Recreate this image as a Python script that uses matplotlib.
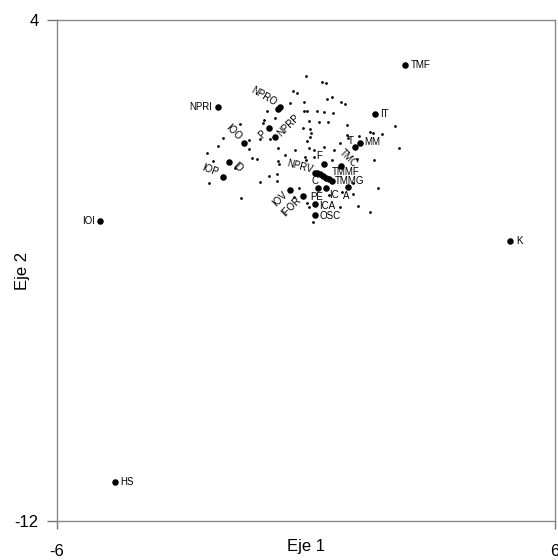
import matplotlib
matplotlib.use("Agg")
import matplotlib.pyplot as plt

plt.rcParams['font.family'] = ['Liberation Sans', 'DejaVu Sans']

# Labelled variables (Eje 1, Eje 2)
labels = ["TMF", "NPRI", "NPRO", "IT", "P", "NPRP", "IOO", "MM", "T", "ID",
          "IOP", "F", "TMC", "C", "TMMF", "TMMG", "A", "PE", "IC", "IOV",
          "IFOR", "ICA", "OSC", "IOI", "K", "HS"]
lab_x = [2.39, -2.12, -0.63, 1.66, -0.89, -0.75, -1.50, 1.30, 1.18, -1.86,
         -2.00, 0.43, 0.84, 0.26, 0.41, 0.63, 1.01, 0.29, 0.48, -0.39,
         -0.07, 0.22, 0.22, -4.96, 4.92, -4.60]
lab_y = [2.56, 1.22, 1.22, 1.00, 0.55, 0.26, 0.07, 0.07, -0.06, -0.54,
         -1.02, -0.60, -0.66, -0.89, -0.98, -1.14, -1.34, -1.37, -1.37, -1.43,
         -1.62, -1.88, -2.23, -2.42, -3.06, -10.76]
# extra unlabelled large points along the C - TMMG chain and NPRO
big_x = [0.22, 0.33, 0.48, 0.55, -0.67]
big_y = [-0.88, -0.93, -1.03, -1.08, 1.16]

# Cases (small dots)
pts_x = [0.00, 0.39, 0.47, -0.32, -0.23, 0.62, 0.50, 0.84, 0.94, -0.06,
         -0.39, -0.93, -0.05, 0.03, 0.26, 0.44, 0.64, -0.76, -1.01, -1.04,
         0.32, 0.07, 0.52, -1.59, 0.98, -0.08, 0.10, 2.13, 1.53, 1.62,
         1.82, -1.11, -1.37, -0.87, 0.02, 0.10, 0.12, 0.98, 1.02, 1.28,
         -1.99, -2.13, -1.37, -0.68, -0.27, 0.08, 0.44, 0.68, 2.25, -2.39,
         -1.29, -1.17, -0.68, -0.65, -2.23, -1.71, 0.00, 0.20, 0.62, 1.22,
         1.64, -0.71, -0.89, -2.33, -1.12, -0.71, 1.14, 1.74, -0.16, -1.57,
         -0.28, 0.86, 0.56, 1.14, 0.82, 1.24, 1.53, 0.06, 0.16, -0.51,
         -0.02, 0.18, 0.82, 0.02]
pts_y = [2.22, 2.02, 2.00, 1.73, 1.66, 1.53, 1.47, 1.39, 1.33, 1.37,
         1.36, 1.09, 1.10, 1.09, 1.10, 1.06, 1.02, 0.88, 0.81, 0.70,
         0.75, 0.78, 0.75, 0.68, 0.65, 0.54, 0.51, 0.61, 0.43, 0.40,
         0.36, 0.20, 0.17, 0.19, 0.13, 0.25, 0.38, 0.33, 0.22, 0.29,
         0.22, -0.03, -0.13, -0.07, -0.15, -0.10, -0.05, -0.15, -0.10, -0.26,
         -0.42, -0.45, -0.51, -0.60, -0.49, -0.71, -0.47, -0.37, -0.47, -0.45,
         -0.47, -0.93, -0.97, -1.22, -1.17, -1.13, -1.20, -1.35, -1.35, -1.67,
         -1.64, -1.49, -1.59, -1.57, -1.96, -1.93, -2.12, -1.96, -2.46, -0.31,
         -0.37, -0.15, 0.06, -1.84]

x_ticks = [-6, 6]
y_ticks = [-12, 4]

# label placement: (dx, dy in points, ha, va, rotation)
place = {
    "TMF": (4, 0, "left", "center", 0),
    "NPRI": (-4, 0, "right", "center", 0),
    "NPRO": (-3, 3, "right", "center", -30),
    "IT": (4, 0, "left", "center", 0),
    "P": (-3, -3, "right", "center", 45),
    "NPRP": (3, 2, "left", "center", 45),
    "IOO": (-3, 3, "right", "center", -45),
    "MM": (3, 1, "left", "center", 0),
    "T": (-1, 1, "right", "bottom", 0),
    "ID": (4, -1, "left", "center", -45),
    "IOP": (-4, 3, "right", "center", -20),
    "F": (-1, 2, "right", "bottom", 0),
    "TMC": (0, 11, "left", "center", -45),
    "C": (1, -2, "right", "top", 0),
    "TMMF": (6, 3, "left", "center", 0),
    "TMMG": (2, 0, "left", "center", 0),
    "A": (-1, -3, "center", "top", 0),
    "PE": (-1, -3, "center", "top", 0),
    "IC": (2, -1, "left", "top", 0),
    "IOV": (-3, -2, "right", "center", 45),
    "IFOR": (-3, -2, "right", "center", 45),
    "ICA": (3, -1, "left", "center", 0),
    "OSC": (3, -1, "left", "center", 0),
    "IOI": (-4, 0, "right", "center", 0),
    "K": (4, 0, "left", "center", 0),
    "HS": (4, 0, "left", "center", 0),
}

fig = plt.figure(figsize=(5.58, 5.60), dpi=100)
ax = fig.add_axes([0.102, 0.070, 0.893, 0.894])

ax.scatter(pts_x, pts_y, s=4, c="black", linewidths=0, zorder=3)
ax.scatter(lab_x, lab_y, s=22, c="black", linewidths=0, zorder=4)
ax.scatter(big_x, big_y, s=22, c="black", linewidths=0, zorder=4)

for name, x, y in zip(labels, lab_x, lab_y):
    dx, dy, ha, va, rot = place[name]
    ax.annotate(name, (x, y), xytext=(dx, dy), textcoords="offset points",
                ha=ha, va=va, rotation=rot, rotation_mode="anchor",
                fontsize=7, zorder=5)

# NPRV label (attached to the C point)
ax.annotate("NPRV", (lab_x[13], lab_y[13]), xytext=(-3, 2), textcoords="offset points",
            ha="right", va="center", rotation=-15, rotation_mode="anchor",
            fontsize=7, zorder=5)

ax.set_xlim(-6, 6)
ax.set_ylim(-12, 4)
ax.set_xticks(x_ticks)
ax.set_yticks(y_ticks)
ax.set_xticklabels([str(v) for v in x_ticks], fontsize=12)
ax.set_yticklabels([str(v) for v in y_ticks], fontsize=12)
ax.tick_params(axis="x", length=6, width=1, color="#777777", pad=11, direction="out")
ax.tick_params(axis="y", length=7, width=1, color="#777777", pad=6, direction="out")
for sp in ax.spines.values():
    sp.set_color("#888888")
    sp.set_linewidth(1)

ax.set_xlabel("Eje 1", fontsize=12, labelpad=-15)
ax.set_ylabel("Eje 2", fontsize=12)
ax.yaxis.set_label_coords(-0.054, 0.5)

fig.savefig("out.png", dpi=100)
